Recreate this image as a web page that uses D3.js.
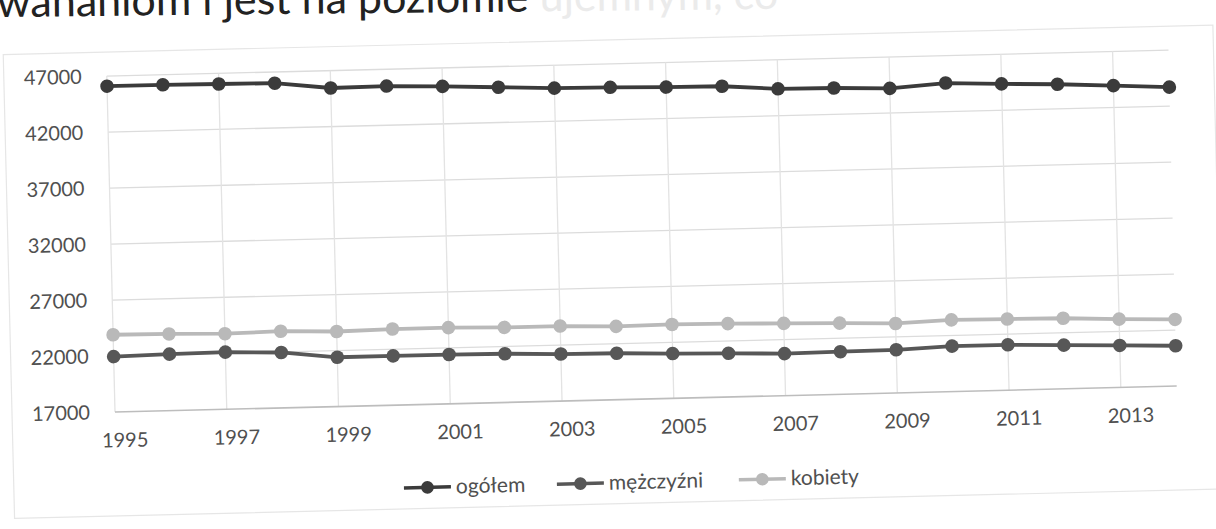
<!DOCTYPE html>
<html><head><meta charset="utf-8">
<script src="https://cdn.jsdelivr.net/npm/d3@7"></script>
<style>
body{margin:0;background:#fff;}
svg{display:block;font-family:Lato,"Open Sans",sans-serif;}
</style>
</head><body>
<svg id="chart" width="1216" height="529"></svg>
<script>
const years = [1995,1996,1997,1998,1999,2000,2001,2002,2003,2004,2005,2006,2007,2008,2009,2010,2011,2012,2013,2014];
const ogolem = [46100,46100,46050,46000,45450,45500,45350,45150,44950,44900,44800,44750,44400,44350,44200,44550,44350,44200,43950,43700];
const mezczyzni = [21950,22050,22100,21950,21400,21400,21400,21350,21200,21150,21000,20900,20750,20800,20850,21050,21050,20900,20750,20600];
const kobiety = [23900,23850,23750,23850,23700,23800,23800,23700,23700,23550,23600,23550,23450,23350,23200,23400,23350,23300,23100,22950];
const yTicks = [17000,22000,27000,32000,37000,42000,47000];
const xTickYears = [1995,1997,1999,2001,2003,2005,2007,2009,2011,2013];
const seriesNames = ["ogółem","mężczyźni","kobiety"];
const seriesColors = ["#3b3b3b","#575757","#b9b9b9"];
const headText = "wahaniom i jest na poziomie";
const headFaded = " ujemnym, co";

const svg = d3.select("#chart");

// top text (cut off by the page edge, as in the scan)
const head = svg.append("text").attr("x", -3).attr("y", 17)
  .attr("font-size", 43).attr("fill", "#222")
  .attr("transform", "rotate(-0.6,0,17)");
head.append("tspan").text(headText);
head.append("tspan").attr("fill", "#ebebeb").text(headFaded);

const pLeft = 115, pRight = 1177, pTop = 76, pBottom = 412;
const g = svg.append("g").attr("transform", `rotate(-1.4,${pLeft},${pBottom})`);

// chart frame
g.append("rect").attr("x", 12).attr("y", 52).attr("width", 1210).attr("height", 464)
  .attr("fill", "none").attr("stroke", "#e6e6e6").attr("stroke-width", 1.2);

const x = d3.scalePoint().domain(years).range([pLeft, pRight]);
const y = d3.scaleLinear().domain([17000, 47000]).range([pBottom, pTop]);

// horizontal gridlines
g.append("g").selectAll("line").data(yTicks.filter(v => v > 17000)).join("line")
  .attr("x1", pLeft).attr("x2", pRight).attr("y1", d => y(d)).attr("y2", d => y(d))
  .attr("stroke", "#dcdcdc").attr("stroke-width", 1.3);
// vertical gridlines
g.append("g").selectAll("line").data(xTickYears).join("line")
  .attr("x1", d => x(d)).attr("x2", d => x(d)).attr("y1", pTop).attr("y2", pBottom)
  .attr("stroke", "#e3e3e3").attr("stroke-width", 1.3);
// baseline
g.append("line").attr("x1", pLeft).attr("x2", pRight).attr("y1", pBottom).attr("y2", pBottom)
  .attr("stroke", "#bdbdbd").attr("stroke-width", 1.6);

// axes
const yAxis = g.append("g").attr("transform", `translate(${pLeft},0)`)
  .call(d3.axisLeft(y).tickValues(yTicks).tickSize(0).tickPadding(25).tickFormat(d3.format("d")));
yAxis.select(".domain").remove();
yAxis.selectAll("text").attr("font-size", 20).attr("fill", "#505050").attr("font-family", "Lato");

const xAxis = g.append("g").attr("transform", `translate(9,${pBottom})`)
  .call(d3.axisBottom(x).tickValues(xTickYears).tickSize(0).tickPadding(21));
xAxis.select(".domain").remove();
xAxis.selectAll("text").attr("font-size", 20).attr("fill", "#505050").attr("font-family", "Lato");

// series
const series = [ogolem, mezczyzni, kobiety];
const line = d3.line().x((d, i) => x(years[i])).y(d => y(d));
series.forEach((vals, si) => {
  const sg = g.append("g");
  sg.append("path").datum(vals).attr("d", line).attr("fill", "none")
    .attr("stroke", seriesColors[si]).attr("stroke-width", 3.8).attr("stroke-linejoin", "round");
  sg.selectAll("circle").data(vals).join("circle")
    .attr("cx", (d, i) => x(years[i])).attr("cy", d => y(d)).attr("r", 6.8)
    .attr("fill", seriesColors[si]);
});

// legend
const legendX = [402, 555, 737];
const leg = g.append("g").attr("transform", "translate(0,495)");
seriesNames.forEach((name, si) => {
  const lg = leg.append("g").attr("transform", `translate(${legendX[si]},0)`);
  lg.append("line").attr("x1", 0).attr("x2", 47).attr("y1", 0).attr("y2", 0)
    .attr("stroke", seriesColors[si]).attr("stroke-width", 3.5);
  lg.append("circle").attr("cx", 23.5).attr("cy", 0).attr("r", 6.3).attr("fill", seriesColors[si]);
  lg.append("text").attr("x", 52).attr("y", 0).attr("dy", "0.32em")
    .attr("font-size", 21).attr("fill", "#505050").text(name);
});
</script>
</body></html>
